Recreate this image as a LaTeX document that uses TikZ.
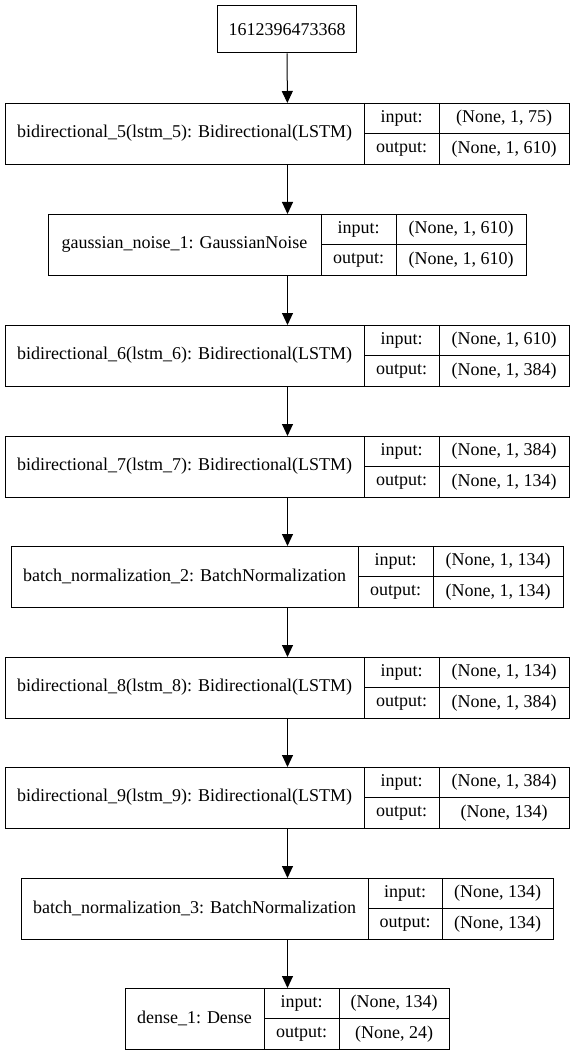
\documentclass[tikz,border=0pt]{standalone}
\usepackage{fontspec}
\setmainfont{Liberation Serif}
\usetikzlibrary{arrows.meta}
\tikzset{
    box/.style={draw, rectangle, line width=1pt, inner sep=0pt},
    txt/.style={inner sep=0pt},
    edge/.style={line width=1pt, -{Triangle[length=12pt,width=11pt]}}
}
\begin{document}
\begin{tikzpicture}[x=1pt, y=-1pt, font=\rmfamily\fontsize{18}{20}\selectfont]
    \useasboundingbox (0,0) rectangle (575,1056);

    % Draw nodes
    \node[box, minimum width=139pt, minimum height=47pt] (top) at (287,29.5) {1612396473368};
    \foreach \n/\t/\xa/\xb/\xc/\xd/\lab/\inp/\outp in {
        b5/103/5/364/439/569/{bidirectional\_5(lstm\_5): Bidirectional(LSTM)}/{(None, 1, 75)}/{(None, 1, 610)},
        gn1/214/48/321/396/526/{gaussian\_noise\_1: GaussianNoise}/{(None, 1, 610)}/{(None, 1, 610)},
        b6/325/5/364/439/569/{bidirectional\_6(lstm\_6): Bidirectional(LSTM)}/{(None, 1, 610)}/{(None, 1, 384)},
        b7/436/5/364/439/569/{bidirectional\_7(lstm\_7): Bidirectional(LSTM)}/{(None, 1, 384)}/{(None, 1, 134)},
        bn2/546/11/358/433/563/{batch\_normalization\_2: BatchNormalization}/{(None, 1, 134)}/{(None, 1, 134)},
        b8/657/5/364/439/569/{bidirectional\_8(lstm\_8): Bidirectional(LSTM)}/{(None, 1, 134)}/{(None, 1, 384)},
        b9/767/5/364/439/569/{bidirectional\_9(lstm\_9): Bidirectional(LSTM)}/{(None, 1, 384)}/{(None, 134)},
        bn3/878/21/368/442/553/{batch\_normalization\_3: BatchNormalization}/{(None, 134)}/{(None, 134)},
        d1/988/125/264/339/449/{dense\_1: Dense}/{(None, 134)}/{(None, 24)}
    }{
        \node[box, anchor=north west, minimum width={(\xd-\xa)*1pt}, minimum height=61pt] (\n) at (\xa,\t) {};
        \draw[line width=1pt] (\xb,\t) -- (\xb,\t+61);
        \draw[line width=1pt] (\xc,\t) -- (\xc,\t+61);
        \draw[line width=1pt] (\xb,\t+30.5) -- (\xd,\t+30.5);
        \node[txt] (\n-lab) at ({(\xa+\xb)/2},\t+30.5) {\lab};
        \node[txt] (\n-in) at ({(\xb+\xc)/2},\t+15.5) {input:};
        \node[txt] (\n-out) at ({(\xb+\xc)/2},\t+46) {output:};
        \node[txt] (\n-inv) at ({(\xc+\xd)/2},\t+15.5) {\inp};
        \node[txt] (\n-outv) at ({(\xc+\xd)/2},\t+46) {\outp};
    }

    % Draw edges
    \foreach \a/\b in {top/b5, b5/gn1, gn1/b6, b6/b7, b7/bn2, bn2/b8, b8/b9, b9/bn3, bn3/d1}
        \draw[edge] (\a) -- (\b);
\end{tikzpicture}
\end{document}
